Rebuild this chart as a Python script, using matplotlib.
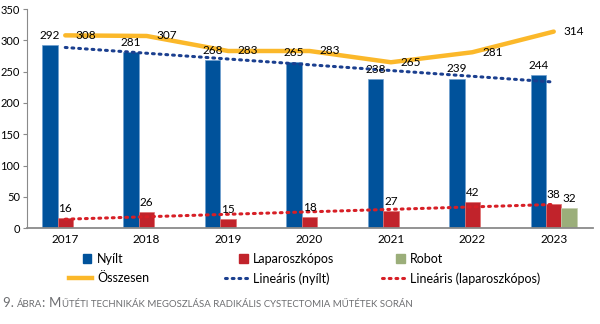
import matplotlib.pyplot as plt
import numpy as np
from matplotlib.lines import Line2D
from matplotlib.patches import Patch, Rectangle
from matplotlib.legend_handler import HandlerPatch

plt.rcParams['font.family'] = ['Lato', 'DejaVu Sans']

# adatok
years = ['2017', '2018', '2019', '2020', '2021', '2022', '2023']
nyilt = [292, 281, 268, 265, 238, 239, 244]
laparo = [16, 26, 15, 18, 27, 42, 38]
robot = [None, None, None, None, None, None, 32]
osszesen = [308, 307, 283, 283, 265, 281, 314]

c_nyilt = '#00529b'
c_lap = '#c1232b'
c_robot = '#9bae7a'
c_ossz = '#fbb82a'
c_trend_ny = '#1b3f8f'
c_trend_lap = '#d71f26'
c_grey = '#8a8a8a'
dots = (0, (0.6, 1.6))

fig = plt.figure(figsize=(6, 3.24), dpi=100)
ax = fig.add_axes([0.045, 0.296, 0.943, 0.676])

x = np.arange(len(years))
w = 0.19

ax.bar(x - w, nyilt, w, color=c_nyilt, edgecolor='#6f9fd0', linewidth=0.5, zorder=2)
ax.bar(x, laparo, w, color=c_lap, edgecolor='#e07070', linewidth=0.5, zorder=2)
rx = [i for i, v in enumerate(robot) if v is not None]
rv = [v for v in robot if v is not None]
ax.bar(np.array(rx) + w, rv, w, color=c_robot, edgecolor='#c5d0b0', linewidth=0.5, zorder=2)

# trendvonalak (lineáris illesztés)
k1 = np.polyfit(x, nyilt, 1)
k2 = np.polyfit(x, laparo, 1)
ax.plot(x, np.polyval(k1, x), color=c_trend_ny, lw=2.2, linestyle=dots,
        dash_capstyle='round', zorder=3)
ax.plot(x, np.polyval(k2, x), color=c_trend_lap, lw=2.2, linestyle=dots,
        dash_capstyle='round', zorder=3)

ax.plot(x, osszesen, color=c_ossz, lw=3.2, solid_capstyle='round', zorder=4)

# feliratok
for i in range(len(years)):
    ax.annotate(str(nyilt[i]), (x[i] - w, nyilt[i]), xytext=(0, 3), textcoords='offset points',
                ha='center', va='bottom', fontsize=8.5, zorder=5)
    ax.annotate(str(laparo[i]), (x[i], laparo[i]), xytext=(0, 3), textcoords='offset points',
                ha='center', va='bottom', fontsize=8.5, zorder=5)
    ax.annotate(str(osszesen[i]), (x[i], osszesen[i]), xytext=(7, 0), textcoords='offset points',
                ha='left', va='center', fontsize=8.5, zorder=5)
for i, v in zip(rx, rv):
    ax.annotate(str(v), (i + w, v), xytext=(0, 3), textcoords='offset points',
                ha='center', va='bottom', fontsize=8.5, zorder=5)

ax.set_xlim(-0.47, 6.48)
ax.set_ylim(0, 350)
ax.set_yticks(range(0, 351, 50))
ax.set_xticks(x)
ax.set_xticklabels(years, fontsize=8.5)
ax.tick_params(axis='x', length=0, pad=4)
ax.tick_params(axis='y', labelsize=8, length=3, color=c_grey, pad=2)
for s in ['top', 'right']:
    ax.spines[s].set_visible(False)
ax.spines['left'].set_color(c_grey)
ax.spines['bottom'].set_color(c_grey)
ax.spines['bottom'].set_linewidth(1.3)


# kis négyzet a jelmagyarázat jobb szélén
def square(legend, orig_handle, xdescent, ydescent, width, height, fontsize):
    s = 6.0
    return Rectangle((width - xdescent - s, -ydescent + (height - s) / 2), s, s)


groups = [
    (0.115, [Patch(color=c_nyilt), Line2D([], [], color=c_ossz, lw=3.2)], ['Nyílt', 'Összesen']),
    (0.375, [Patch(color=c_lap), Line2D([], [], color=c_trend_ny, lw=2.2, linestyle=dots,
                                        dash_capstyle='round')], ['Laparoszkópos', 'Lineáris (nyílt)']),
    (0.637, [Patch(color=c_robot), Line2D([], [], color=c_trend_lap, lw=2.2, linestyle=dots,
                                          dash_capstyle='round')], ['Robot', 'Lineáris (laparoszkópos)']),
]
for gx, h, l in groups:
    fig.legend(h, l, loc='upper left', bbox_to_anchor=(gx, 0.22), frameon=False,
               fontsize=9, handlelength=1.8, handleheight=0.8, handletextpad=0.45,
               labelspacing=0.6, borderpad=0, borderaxespad=0,
               handler_map={Patch: HandlerPatch(patch_func=square)})

# ábrafelirat kiskapitálissal
parts = [('9. ', 9.5), ('ÁBRA', 6.9), (': ', 9.5), ('M', 9.5),
         ('ŰTÉTI TECHNIKÁK MEGOSZLÁSA RADIKÁLIS CYSTECTOMIA MŰTÉTEK SORÁN', 6.9)]
prev = fig.text(0.005, 0.045, parts[0][0], fontsize=parts[0][1], color='#6d6e71', va='bottom')
for s, fs in parts[1:]:
    prev = ax.annotate(s, xy=(1, 0), xycoords=prev, va='bottom', ha='left',
                       fontsize=fs, color='#6d6e71', annotation_clip=False)

fig.savefig('out.png', dpi=100)
